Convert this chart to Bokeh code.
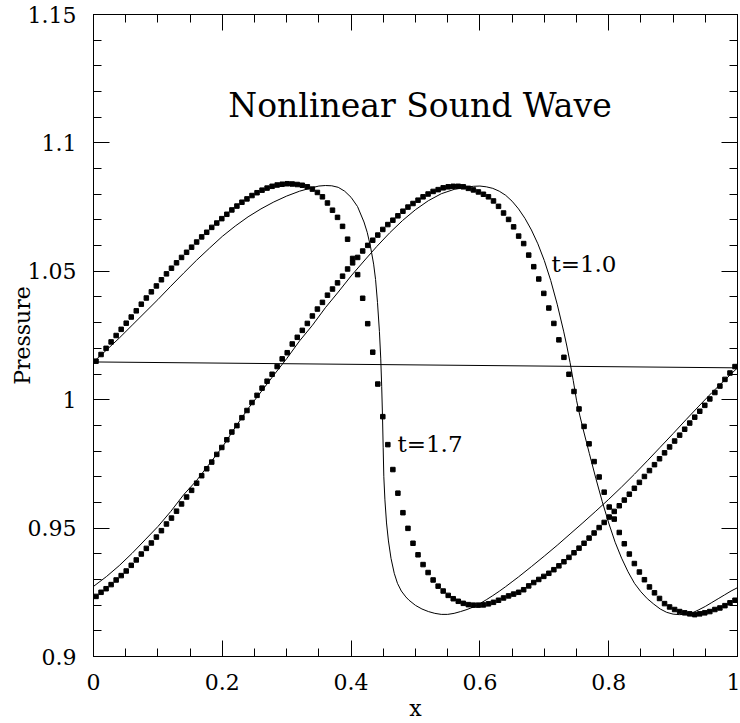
from bokeh.plotting import figure
from bokeh.models import Range1d, LinearAxis, FixedTicker, CustomJSTickFormatter
from bokeh.core.properties import value
from bokeh.embed import file_html
from bokeh.resources import INLINE
import numpy as np

# ---------------- data ----------------
n_cells = 128
x_cells = (np.arange(n_cells) + 0.5) / n_cells

# numerical solution, t = 1.0 (squares)
p_num_t10 = [
    0.9234, 0.9250, 0.9264, 0.9280, 0.9298, 0.9315, 0.9333, 0.9355, 0.9376, 0.9399,
    0.9421, 0.9442, 0.9465, 0.9490, 0.9516, 0.9539, 0.9566, 0.9594, 0.9621, 0.9647,
    0.9675, 0.9704, 0.9731, 0.9757, 0.9787, 0.9814, 0.9844, 0.9874, 0.9899, 0.9930,
    0.9958, 0.9989, 1.0017, 1.0045, 1.0072, 1.0099, 1.0129, 1.0159, 1.0183, 1.0217,
    1.0243, 1.0270, 1.0297, 1.0326, 1.0353, 1.0379, 1.0407, 1.0431, 1.0455, 1.0481,
    1.0509, 1.0533, 1.0554, 1.0579, 1.0601, 1.0621, 1.0641, 1.0663, 1.0682, 1.0699,
    1.0716, 1.0734, 1.0750, 1.0764, 1.0777, 1.0790, 1.0801, 1.0811, 1.0818, 1.0825,
    1.0829, 1.0831, 1.0831, 1.0829, 1.0823, 1.0817, 1.0809, 1.0800, 1.0790, 1.0774,
    1.0753, 1.0727, 1.0702, 1.0673, 1.0637, 1.0608, 1.0563, 1.0518, 1.0470, 1.0414,
    1.0357, 1.0297, 1.0233, 1.0165, 1.0099, 1.0032, 0.9964, 0.9896, 0.9828, 0.9759,
    0.9699, 0.9640, 0.9582, 0.9535, 0.9483, 0.9439, 0.9399, 0.9362, 0.9329, 0.9299,
    0.9271, 0.9248, 0.9226, 0.9206, 0.9193, 0.9183, 0.9175, 0.9170, 0.9166, 0.9163,
    0.9166, 0.9170, 0.9175, 0.9183, 0.9189, 0.9198, 0.9209, 0.9219,
]

# numerical solution, t = 1.7 (squares)
p_num_t17 = [
    1.0150, 1.0176, 1.0200, 1.0225, 1.0250, 1.0274, 1.0298, 1.0322, 1.0346, 1.0372,
    1.0396, 1.0420, 1.0443, 1.0467, 1.0490, 1.0512, 1.0533, 1.0554, 1.0574, 1.0594,
    1.0614, 1.0634, 1.0652, 1.0671, 1.0688, 1.0705, 1.0722, 1.0739, 1.0754, 1.0769,
    1.0782, 1.0795, 1.0806, 1.0816, 1.0824, 1.0831, 1.0836, 1.0839, 1.0841, 1.0840,
    1.0838, 1.0835, 1.0829, 1.0820, 1.0807, 1.0790, 1.0766, 1.0738, 1.0710, 1.0675,
    1.0625, 1.0550, 1.0487, 1.0395, 1.0296, 1.0185, 1.0061, 0.9934, 0.9825, 0.9728,
    0.9636, 0.9560, 0.9499, 0.9441, 0.9396, 0.9358, 0.9327, 0.9298, 0.9274, 0.9255,
    0.9238, 0.9225, 0.9215, 0.9207, 0.9202, 0.9200, 0.9200, 0.9201, 0.9205, 0.9211,
    0.9219, 0.9228, 0.9236, 0.9243, 0.9250, 0.9260, 0.9275, 0.9288, 0.9300, 0.9312,
    0.9324, 0.9338, 0.9353, 0.9369, 0.9386, 0.9404, 0.9422, 0.9441, 0.9461, 0.9481,
    0.9502, 0.9522, 0.9543, 0.9565, 0.9587, 0.9609, 0.9632, 0.9655, 0.9678, 0.9701,
    0.9724, 0.9747, 0.9770, 0.9793, 0.9816, 0.9839, 0.9862, 0.9885, 0.9909, 0.9932,
    0.9955, 0.9978, 1.0003, 1.0028, 1.0053, 1.0079, 1.0104, 1.0129,
]

# exact solution, t = 1.0 (thin line)
x_ex_t10 = [0.00, 0.02, 0.04, 0.06, 0.08, 0.10, 0.12, 0.14, 0.16, 0.18, 0.20, 0.22, 0.24,
            0.26, 0.28, 0.30, 0.32, 0.34, 0.36, 0.38, 0.40, 0.42, 0.44, 0.46, 0.48, 0.50,
            0.52, 0.54, 0.56, 0.58, 0.59, 0.60, 0.61, 0.62, 0.63, 0.64, 0.65, 0.66, 0.67,
            0.68, 0.69, 0.70, 0.71, 0.72, 0.73, 0.735, 0.74, 0.745, 0.75, 0.755, 0.76,
            0.77, 0.78, 0.79, 0.80, 0.81, 0.82, 0.83, 0.84, 0.85, 0.86, 0.87, 0.88, 0.89,
            0.90, 0.91, 0.92, 0.93, 0.94, 0.95, 0.96, 0.97, 0.98, 0.99, 1.00]
p_ex_t10 = [0.9273, 0.9311, 0.9354, 0.9402, 0.9454, 0.9506, 0.9565, 0.9630, 0.9685, 0.9750,
            0.9815, 0.9892, 0.9965, 1.0030, 1.0096, 1.0160, 1.0229, 1.0290, 1.0358, 1.0419,
            1.0482, 1.0540, 1.0597, 1.0650, 1.0698, 1.0740, 1.0775, 1.0802, 1.0819, 1.0828,
            1.0831, 1.0832, 1.0829, 1.0823, 1.0812, 1.0796, 1.0773, 1.0743, 1.0706, 1.0661,
            1.0607, 1.0542, 1.0464, 1.0372, 1.0267, 1.0209, 1.0145, 1.0074, 0.9998, 0.9940,
            0.9888, 0.9790, 0.9694, 0.9603, 0.9520, 0.9445, 0.9383, 0.9330, 0.9285, 0.9252,
            0.9225, 0.9204, 0.9185, 0.9172, 0.9165, 0.9163, 0.9165, 0.9170, 0.9182, 0.9195,
            0.9210, 0.9225, 0.9240, 0.9255, 0.9268]

# exact solution, t = 1.7 (thin line)
x_ex_t17 = [0.00, 0.02, 0.04, 0.06, 0.08, 0.10, 0.12, 0.14, 0.16, 0.18, 0.20, 0.22, 0.24,
            0.26, 0.28, 0.30, 0.32, 0.34, 0.35, 0.36, 0.37, 0.38, 0.39, 0.40, 0.41, 0.42,
            0.425, 0.43, 0.435, 0.438, 0.441, 0.444, 0.446, 0.4475, 0.4488, 0.4498, 0.4508,
            0.4525, 0.455, 0.458, 0.462, 0.467, 0.472, 0.478, 0.485, 0.49, 0.50, 0.51, 0.52,
            0.53, 0.54, 0.55, 0.56, 0.57, 0.58, 0.59, 0.60, 0.61, 0.62, 0.63, 0.64, 0.65,
            0.66, 0.68, 0.70, 0.72, 0.74, 0.76, 0.78, 0.80, 0.82, 0.84, 0.86, 0.88, 0.90,
            0.92, 0.94, 0.96, 0.98, 1.00]
p_ex_t17 = [1.0147, 1.0193, 1.0240, 1.0290, 1.0340, 1.0390, 1.0442, 1.0493, 1.0543, 1.0590,
            1.0636, 1.0676, 1.0712, 1.0743, 1.0770, 1.0793, 1.0812, 1.0826, 1.0832, 1.0834,
            1.0833, 1.0827, 1.0812, 1.0788, 1.0752, 1.0692, 1.0652, 1.0598, 1.0528, 1.0468,
            1.0378, 1.0265, 1.0162, 1.0052, 0.9932, 0.9815, 0.9700, 0.9610, 0.9520, 0.9450,
            0.9382, 0.9324, 0.9285, 0.9255, 0.9232, 0.9219, 0.9199, 0.9185, 0.9175, 0.9168,
            0.9164, 0.9164, 0.9168, 0.9175, 0.9183, 0.9193, 0.9206, 0.9221, 0.9237, 0.9254,
            0.9272, 0.9291, 0.9310, 0.9350, 0.9391, 0.9433, 0.9477, 0.9521, 0.9566, 0.9612,
            0.9660, 0.9710, 0.9762, 0.9815, 0.9868, 0.9922, 0.9975, 1.0027, 1.0076, 1.0124]

# straight line across the panel
x_flat = [0.0, 1.0]
p_flat = [1.0147, 1.0124]

x_ticks = [0.0, 0.2, 0.4, 0.6, 0.8, 1.0]
x_minor = [round(0.05 * i, 2) for i in range(21)]
y_ticks = [0.9, 0.95, 1.0, 1.05, 1.1, 1.15]
y_minor = [round(0.9 + 0.01 * i, 2) for i in range(26)]

title_text = "Nonlinear Sound Wave"
x_label = "x"
y_label = "Pressure"
curve_labels = ["t=1.0", "t=1.7"]
curve_label_x = [0.711, 0.472]
curve_label_y = [1.053, 0.9828]

# ---------------- figure ----------------
FONT = "DejaVu Serif"

p = figure(width=740, height=723, x_range=Range1d(0, 1), y_range=Range1d(0.9, 1.15),
           output_backend="svg", toolbar_location=None,
           min_border_left=93, min_border_right=3, min_border_top=14, min_border_bottom=66)
p.grid.visible = False
p.background_fill_color = "white"
p.border_fill_color = "white"
p.outline_line_color = "black"
p.outline_line_width = 1

xfmt = CustomJSTickFormatter(code="return tick.toFixed(1).replace(/0+$/,'').replace(/\\.$/,'');")
yfmt = CustomJSTickFormatter(code="return tick.toFixed(2).replace(/0+$/,'').replace(/\\.$/,'');")


def style_axis(ax, show_labels):
    ax.major_tick_in = 16
    ax.major_tick_out = 0
    ax.minor_tick_in = 8
    ax.minor_tick_out = 0
    ax.axis_line_color = "black"
    ax.major_tick_line_color = "black"
    ax.minor_tick_line_color = "black"
    if show_labels:
        ax.major_label_text_font = FONT
        ax.major_label_text_font_size = "22px"
        ax.major_label_text_color = "black"
        ax.axis_label_text_font = FONT
        ax.axis_label_text_font_size = "22px"
        ax.axis_label_text_font_style = "normal"
        ax.axis_label_text_color = "black"
    else:
        ax.axis_label = None
        ax.major_label_text_font_size = "0px"
        ax.major_label_standoff = 0


xa = p.xaxis[0]
xa.ticker = FixedTicker(ticks=x_ticks, minor_ticks=x_minor)
xa.formatter = xfmt
style_axis(xa, True)
xa.axis_label = x_label
xa.major_label_standoff = 17
xa.axis_label_standoff = 3
xa.axis_label_text_line_height = 0.7

ya = p.yaxis[0]
ya.ticker = FixedTicker(ticks=y_ticks, minor_ticks=y_minor)
ya.formatter = yfmt
style_axis(ya, True)
ya.axis_label = y_label
ya.major_label_standoff = 17
ya.axis_label_standoff = -10

ra = LinearAxis(ticker=FixedTicker(ticks=y_ticks, minor_ticks=y_minor))
style_axis(ra, False)
p.add_layout(ra, "right")
ta = LinearAxis(ticker=FixedTicker(ticks=x_ticks, minor_ticks=x_minor))
style_axis(ta, False)
p.add_layout(ta, "above")

# curves
p.line(x_flat, p_flat, line_color="black", line_width=1)
p.line(x_ex_t10, p_ex_t10, line_color="black", line_width=1)
p.line(x_ex_t17, p_ex_t17, line_color="black", line_width=1)
p.scatter(x_cells, p_num_t10, marker="square", size=4.5, fill_color="black", line_color="black")
p.scatter(x_cells, p_num_t17, marker="square", size=4.5, fill_color="black", line_color="black")

# texts
p.text(x=[0.507], y=[1.1146], text=[title_text], text_font=value(FONT),
       text_font_size=value("33px"), text_align="center", text_baseline="middle",
       text_color="black")
p.text(x=curve_label_x, y=curve_label_y, text=curve_labels, text_font=value(FONT),
       text_font_size=value("23px"), text_align="left", text_baseline="middle",
       text_color="black")

open("out.html", "w").write(file_html(p, INLINE))
